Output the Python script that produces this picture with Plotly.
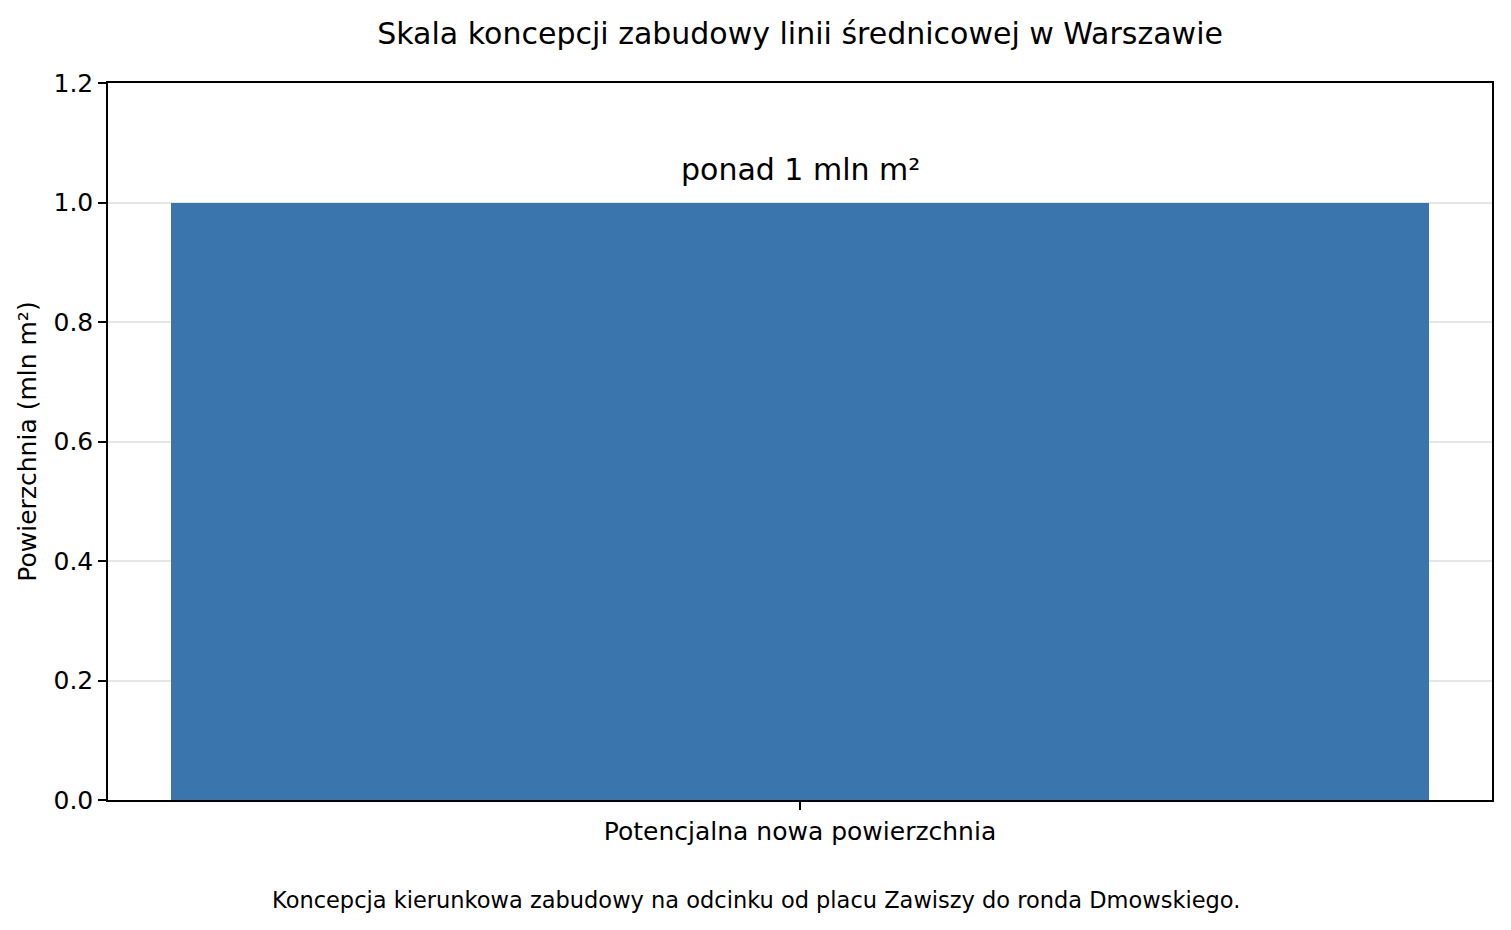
import plotly.graph_objects as go

# data
categories = ["Potencjalna nowa powierzchnia"]
values = [1.0]
bar_label = "ponad 1 mln m²"
y_ticks = [0.0, 0.2, 0.4, 0.6, 0.8, 1.0, 1.2]

fig = go.Figure(data=[go.Bar(x=[0], y=values, width=0.8, marker=dict(color="#3a75ae", line=dict(width=0)))])

fig.add_annotation(x=0, y=values[0], text=bar_label, showarrow=False, yanchor="bottom", yshift=14,
                   font=dict(size=30, color="black"))
fig.add_annotation(xref="paper", yref="paper", x=0.468, y=-0.160,
                   text="Koncepcja kierunkowa zabudowy na odcinku od placu Zawiszy do ronda Dmowskiego.",
                   showarrow=False, font=dict(size=22.5, color="black"))

# page body adds an 8px margin, so the figure is a bit smaller than the window
fig.update_layout(
    width=1503, height=922, autosize=False,
    margin=dict(l=100, r=19, t=75, b=130),
    plot_bgcolor="white", paper_bgcolor="white",
    font=dict(family="DejaVu Sans", color="black"),
    title=dict(text="Skala koncepcji zabudowy linii średnicowej w Warszawie", x=0.527, xanchor="center",
               y=1 - 25 / 922, yanchor="middle", font=dict(size=30)),
    showlegend=False, bargap=0,
)
fig.update_xaxes(range=[-0.44, 0.44], tickvals=[0], ticktext=categories, ticks="outside", ticklen=8, tickwidth=1.5,
                 tickcolor="black", showline=True, linecolor="black", linewidth=1.5, mirror=True, showgrid=False,
                 zeroline=False, tickfont=dict(size=25))
fig.update_yaxes(range=[0, 1.2], tickvals=y_ticks, tickformat=".1f", ticks="outside", ticklen=8, tickwidth=1.5,
                 tickcolor="black", showline=True, linecolor="black", linewidth=1.5, mirror=True, showgrid=True,
                 gridcolor="#e6e6e6", gridwidth=1.5, zeroline=False, tickfont=dict(size=25),
                 title=dict(text="Powierzchnia (mln m²)", font=dict(size=25), standoff=10))

fig.write_html("out.html")
